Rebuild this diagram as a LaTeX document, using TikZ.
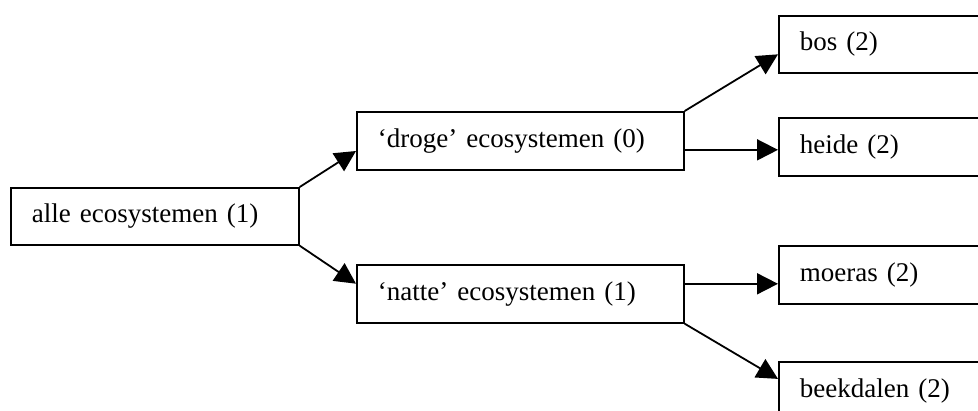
\documentclass[tikz,border=0pt]{standalone}
\usepackage{fontspec}
\setmainfont{Liberation Serif}
\usetikzlibrary{arrows.meta,calc}

\tikzset{
  box/.style={draw, line width=1.7pt, anchor=north west, inner ysep=0pt,
    inner xsep=21pt, minimum height=58pt, align=left,
    font=\fontsize{27}{30}\selectfont},
  link/.style={line width=1.8pt, -{Triangle[length=21pt,width=21pt]}}
}

\begin{document}
\begin{tikzpicture}[x=1pt, y=-1pt]
  \clip (0,0) rectangle (978,410);
  \fill[white] (0,0) rectangle (978,410);

  % root and the two middle groups
  \node[box, text width=246pt, minimum height=57pt] (alle) at (10,187) {alle ecosystemen (1)};
  \node[box, text width=285pt] (droge) at (356,111) {‘droge’ ecosystemen (0)};
  \node[box, text width=285pt] (natte) at (356,264) {‘natte’ ecosystemen (1)};

  % leaf boxes, running on past the right edge
  \node[box, text width=220pt, minimum height=57pt] (bos) at (778,15) {bos (2)};
  \node[box, text width=220pt] (heide) at (778,117) {heide (2)};
  \node[box, text width=220pt] (moeras) at (778,245) {moeras (2)};
  \node[box, text width=220pt] (beek) at (778,361) {beekdalen (2)};

  % arrow ends on the box sides
  \coordinate (dIn) at ($(droge.north west)!0.67!(droge.south west)$);
  \coordinate (nIn) at ($(natte.north west)!0.33!(natte.south west)$);
  \coordinate (bIn) at ($(bos.north west)!0.67!(bos.south west)$);
  \coordinate (hIn) at ($(heide.north west)!0.55!(heide.south west)$);
  \coordinate (mIn) at ($(moeras.north west)!0.65!(moeras.south west)$);
  \coordinate (kIn) at ($(beek.north west)!0.30!(beek.south west)$);

  \draw[link] (alle.north east) -- (dIn);
  \draw[link] (alle.south east) -- (nIn);
  \draw[link] (droge.north east) -- (bIn);
  \draw[link] (droge.east |- hIn) -- (hIn);
  \draw[link] (natte.east |- mIn) -- (mIn);
  \draw[link] (natte.south east) -- (kIn);
\end{tikzpicture}
\end{document}
